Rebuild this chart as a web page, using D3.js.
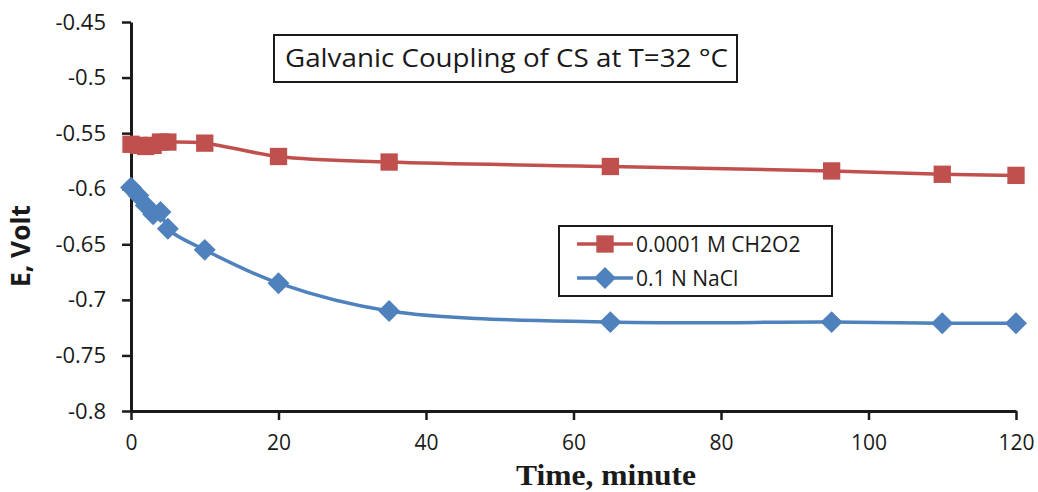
<!DOCTYPE html>
<html>
<head>
<meta charset="utf-8">
<script src="https://cdn.jsdelivr.net/npm/d3@7"></script>
<style>
  body { margin: 0; background: #fff; }
  svg { display: block; }
</style>
</head>
<body>
<div id="chart"></div>
<script>
// Data
var timeRed = [0, 1, 2, 3, 4, 5, 10, 20, 35, 65, 95, 110, 120];
var eRed = [-0.560, -0.561, -0.562, -0.561, -0.558, -0.558, -0.559, -0.571, -0.576, -0.580, -0.584, -0.587, -0.588];
var timeBlue = [0, 1, 2, 3, 4, 5, 10, 20, 35, 65, 95, 110, 120];
var eBlue = [-0.599, -0.606, -0.615, -0.623, -0.621, -0.636, -0.655, -0.685, -0.710, -0.720, -0.720, -0.721, -0.721];
var xTicks = [0, 20, 40, 60, 80, 100, 120];
var yTicks = [-0.45, -0.5, -0.55, -0.6, -0.65, -0.7, -0.75, -0.8];
var seriesNames = ["0.0001 M CH2O2", "0.1 N NaCl"];
var seriesColors = ["#C0504D", "#4F81BD"];

var svgWidth = 1038, svgHeight = 492;
var margin = {top: 22, right: 22, bottom: 81, left: 131};
var width = svgWidth - margin.left - margin.right;
var height = svgHeight - margin.top - margin.bottom;

var svg = d3.select("#chart").append("svg")
    .attr("width", svgWidth)
    .attr("height", svgHeight);

var chartGroup = svg.append("g")
    .attr("transform", `translate(${margin.left}, ${margin.top})`);

var x = d3.scaleLinear().domain([0, 120]).range([0, 885]);
var y = d3.scaleLinear().domain([-0.8, -0.45]).range([height, 0]);

// Axes
var bottomAxis = d3.axisBottom(x).tickValues(xTicks).tickSize(9).tickSizeOuter(0).tickFormat(d3.format("d"));
var leftAxis = d3.axisLeft(y).tickValues(yTicks).tickSize(9).tickSizeOuter(0).tickFormat(d => String(d));

var gx = chartGroup.append("g")
    .attr("transform", `translate(0, ${height})`)
    .call(bottomAxis);
gx.select(".domain").attr("stroke", "#1a1a1a").attr("stroke-width", 3);
gx.selectAll(".tick line").attr("stroke", "#1a1a1a").attr("stroke-width", 2.5);
gx.selectAll(".tick text")
    .attr("dy", "0")
    .attr("y", 39)
    .style("font-family", "'Open Sans', 'Noto Sans', sans-serif")
    .style("font-size", "21px")
    .attr("fill", "#1a1a1a");

var gy = chartGroup.append("g").call(leftAxis);
gy.select(".domain").attr("stroke", "#1a1a1a").attr("stroke-width", 3);
gy.selectAll(".tick line").attr("stroke", "#1a1a1a").attr("stroke-width", 2.5);
gy.selectAll(".tick text")
    .attr("x", -25)
    .style("font-family", "'Open Sans', 'Noto Sans', sans-serif")
    .style("font-size", "22px")
    .attr("fill", "#1a1a1a");

// Axis titles
svg.append("text")
    .attr("x", 606)
    .attr("y", 485)
    .attr("text-anchor", "middle")
    .attr("textLength", 180)
    .attr("lengthAdjust", "spacingAndGlyphs")
    .style("font-family", "'Liberation Serif', serif")
    .style("font-weight", "bold")
    .style("font-size", "29px")
    .attr("fill", "#1a1a1a")
    .text("Time, minute");

svg.append("text")
    .attr("transform", "rotate(-90)")
    .attr("x", -246)
    .attr("y", 30)
    .attr("text-anchor", "middle")
    .attr("textLength", 82)
    .attr("lengthAdjust", "spacingAndGlyphs")
    .style("font-family", "'Open Sans', 'Noto Sans', sans-serif")
    .style("font-weight", "bold")
    .style("font-size", "27px")
    .attr("fill", "#1a1a1a")
    .text("E, Volt");

// Lines
var series = [
    {name: seriesNames[0], color: seriesColors[0], pts: timeRed.map((t, i) => [t, eRed[i]]), shape: "square"},
    {name: seriesNames[1], color: seriesColors[1], pts: timeBlue.map((t, i) => [t, eBlue[i]]), shape: "diamond"}
];

var line = d3.line()
    .x(d => x(d[0]))
    .y(d => y(d[1]))
    .curve(d3.curveCatmullRom.alpha(0.5));

series.forEach(function(s) {
    chartGroup.append("path")
        .datum(s.pts)
        .attr("d", line)
        .attr("fill", "none")
        .attr("stroke", s.color)
        .attr("stroke-width", 3.5);
});

var squareSym = d3.symbol().type(d3.symbolSquare).size(300);
var diamondSym = d3.symbol().type(d3.symbolSquare).size(240);

series.forEach(function(s) {
    chartGroup.selectAll(".m-" + s.shape)
        .data(s.pts)
        .enter()
        .append("path")
        .attr("class", "m-" + s.shape)
        .attr("d", s.shape === "square" ? squareSym : diamondSym)
        .attr("transform", d => `translate(${x(d[0])}, ${y(d[1])})` + (s.shape === "diamond" ? " rotate(45)" : ""))
        .attr("fill", s.color);
});

// Title box
var title = svg.append("g").attr("transform", "translate(274, 35)");
title.append("rect")
    .attr("width", 463).attr("height", 47)
    .attr("fill", "#fff").attr("stroke", "#1a1a1a").attr("stroke-width", 2);
title.append("text")
    .attr("x", 11).attr("y", 32)
    .attr("textLength", 443)
    .attr("lengthAdjust", "spacingAndGlyphs")
    .style("font-family", "'Open Sans', 'Noto Sans', sans-serif")
    .style("font-size", "26px")
    .attr("fill", "#1a1a1a")
    .text("Galvanic Coupling of CS at T=32 °C");

// Legend
var legend = svg.append("g").attr("transform", "translate(559, 226)");
legend.append("rect")
    .attr("width", 273).attr("height", 70)
    .attr("fill", "#fff").attr("stroke", "#1a1a1a").attr("stroke-width", 2);

var items = legend.selectAll(".item")
    .data(series)
    .enter()
    .append("g")
    .attr("transform", (d, i) => `translate(0, ${18 + i * 34})`);

items.append("line")
    .attr("x1", 18).attr("x2", 74)
    .attr("stroke", d => d.color)
    .attr("stroke-width", 3.5);
items.append("path")
    .attr("d", d => d.shape === "square" ? squareSym() : diamondSym())
    .attr("transform", d => "translate(46, 0)" + (d.shape === "diamond" ? " rotate(45)" : ""))
    .attr("fill", d => d.color);
items.append("text")
    .attr("x", 77).attr("y", 8)
    .style("font-family", "'Open Sans', 'Noto Sans', sans-serif")
    .style("font-size", "21px")
    .attr("fill", "#1a1a1a")
    .text(d => d.name);
</script>
</body>
</html>
